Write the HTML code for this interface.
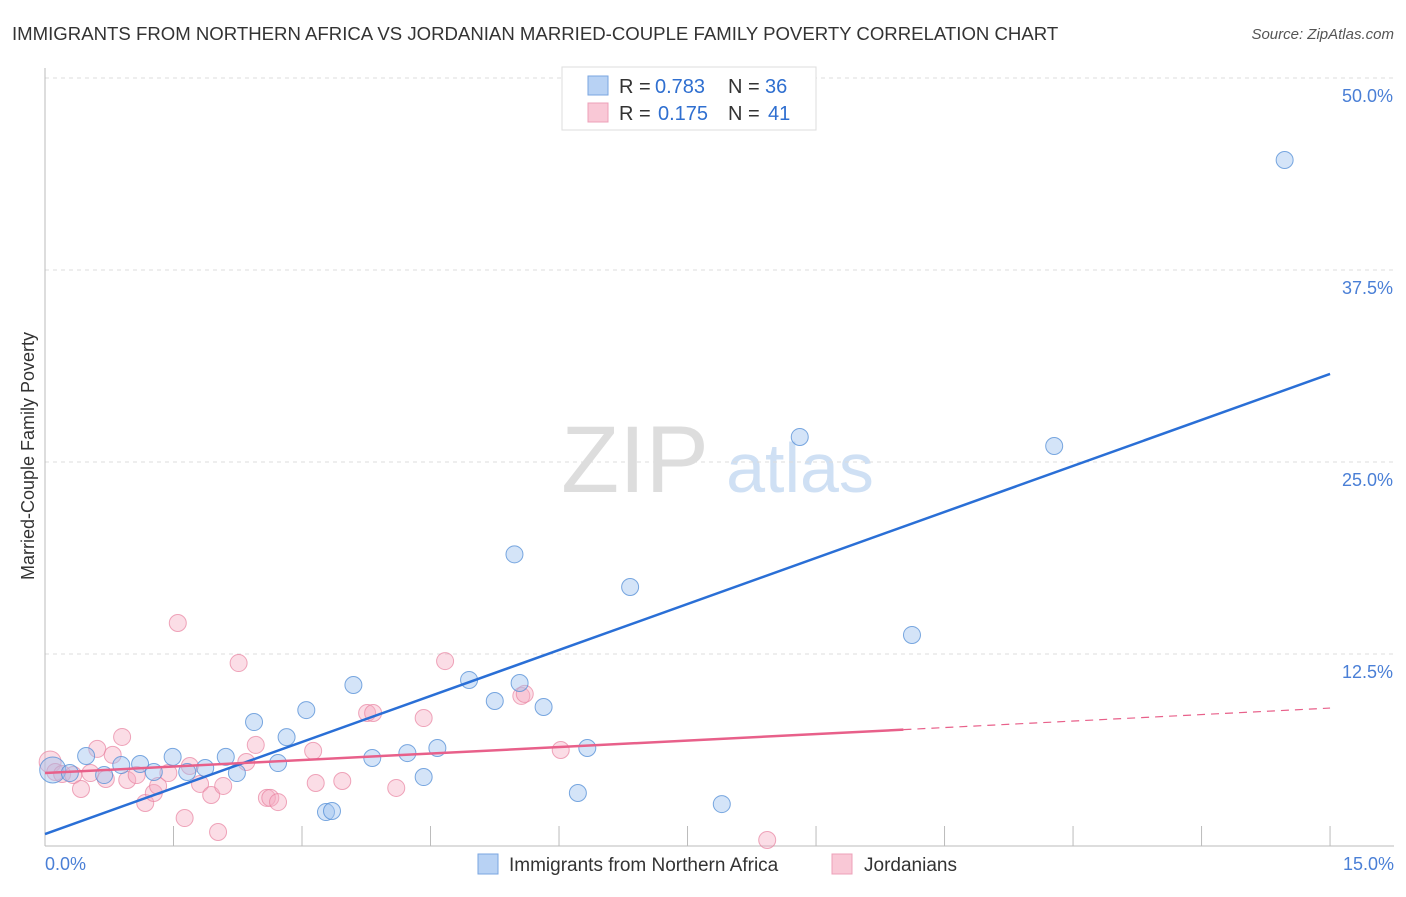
<!DOCTYPE html>
<html><head><meta charset="utf-8"><style>
body{margin:0;background:#fff;font-family:"Liberation Sans",sans-serif}
svg text{font-family:"Liberation Sans",sans-serif}
</style></head><body>
<svg width="1406" height="892" xmlns="http://www.w3.org/2000/svg">
<text x="12" y="40" font-size="18.6" fill="#333">IMMIGRANTS FROM NORTHERN AFRICA VS JORDANIAN MARRIED-COUPLE FAMILY POVERTY CORRELATION CHART</text>
<text x="1394" y="39" font-size="15" fill="#555" font-style="italic" text-anchor="end">Source: ZipAtlas.com</text>
<text x="635" y="492" font-size="95" fill="#ddd" font-family="Liberation Serif" text-anchor="middle">ZIP</text>
<text x="800" y="492" font-size="70" fill="#cfe0f4" text-anchor="middle">atlas</text>
<text transform="translate(34,456) rotate(-90)" font-size="18" fill="#333" text-anchor="middle">Married-Couple Family Poverty</text>
<g id="grid"></g><g id="axes"></g><g id="pts"></g><g id="lines"></g>
<g>
<rect x="562" y="67" width="254" height="63" fill="#fff" stroke="#ddd"/>
<rect x="588" y="76" width="20" height="19" fill="#b8d2f4" stroke="#7aa6e0"/>
<rect x="588" y="103" width="20" height="19" fill="#f9c8d6" stroke="#eda0b8"/>
<text x="619" y="93" font-size="20" fill="#333">R =</text>
<text x="655" y="93" font-size="20" fill="#2f6fd0">0.783</text>
<text x="728" y="93" font-size="20" fill="#333">N =</text>
<text x="765" y="93" font-size="20" fill="#2f6fd0">36</text>
<text x="619" y="120" font-size="20" fill="#333">R =</text>
<text x="658" y="120" font-size="20" fill="#2f6fd0">0.175</text>
<text x="728" y="120" font-size="20" fill="#333">N =</text>
<text x="768" y="120" font-size="20" fill="#2f6fd0">41</text>
</g>
<g>
<rect x="478" y="854" width="20" height="20" fill="#b8d2f4" stroke="#7aa6e0"/>
<text x="509" y="871" font-size="19" fill="#333">Immigrants from Northern Africa</text>
<rect x="832" y="854" width="20" height="20" fill="#f9c8d6" stroke="#eda0b8"/>
<text x="864" y="871" font-size="19" fill="#333">Jordanians</text>
</g>
</svg>
<script>
const blueX=[0.09,0.29,0.48,0.69,0.89,1.11,1.27,1.49,1.66,1.87,2.11,2.24,2.44,2.72,2.82,3.05,3.28,3.35,3.6,3.82,4.23,4.42,4.58,4.95,5.25,5.48,5.54,5.82,6.22,6.33,6.83,7.90,8.81,10.12,11.78,14.47];
const blueY=[4.95,4.75,5.86,4.62,5.27,5.34,4.82,5.8,4.82,5.08,5.8,4.75,8.07,5.4,7.09,8.85,2.21,2.28,10.48,5.73,6.05,4.49,6.38,10.81,9.44,18.99,10.61,9.05,3.45,6.38,16.86,2.73,26.63,13.74,26.04,44.66];
const pinkX=[0.06,0.12,0.2,0.33,0.42,0.53,0.61,0.71,0.79,0.9,0.96,1.07,1.17,1.27,1.32,1.44,1.55,1.63,1.69,1.81,1.94,2.02,2.08,2.26,2.35,2.46,2.59,2.63,2.72,3.13,3.16,3.47,3.76,3.83,4.1,4.42,4.67,5.56,5.6,6.02,8.43];
const pinkY=[5.47,4.82,4.69,4.62,3.71,4.75,6.32,4.36,5.93,7.1,4.3,4.62,2.8,3.45,3.91,4.75,14.52,1.82,5.21,4.04,3.32,0.91,3.91,11.91,5.47,6.58,3.13,3.13,2.86,6.19,4.1,4.23,8.66,8.66,3.78,8.33,12.04,9.77,9.9,6.25,0.39];
const xTicks=[0,1.5,3,4.5,6,7.5,9,10.5,12,13.5,15];
const yTicks=[12.5,25,37.5,50];
const yTickLabels=["12.5%","25.0%","37.5%","50.0%"];
const blueFit=[0.78,1.997];
const pinkFit=[4.75,0.282];
const pinkSolidEnd=10.02;
const NS="http://www.w3.org/2000/svg";
const X=v=>45+v*85.67, Y=v=>846-v*15.36;
function mk(p,t,a){const e=document.createElementNS(NS,t);for(const k in a)e.setAttribute(k,a[k]);document.getElementById(p).appendChild(e);return e;}
yTicks.forEach((t,i)=>{
 let g=mk('grid','line',{x1:45,x2:1394,y1:Y(t),y2:Y(t),stroke:'#ddd','stroke-dasharray':'4,4'});
 
 
 let l=mk('axes','text',{x:1393,y:Y(t)+24,'font-size':18,fill:'#4a7fd6','text-anchor':'end'});l.textContent=yTickLabels[i];
 
 
});
let ya=mk('axes','line',{x1:45,x2:45,y1:68,y2:846,stroke:'#bbb'});


let xa=mk('axes','line',{x1:45,x2:1394,y1:846,y2:846,stroke:'#bbb'});


xTicks.forEach(t=>{let k=mk('axes','line',{x1:X(t),x2:X(t),y1:826,y2:846,stroke:'#bbb'});
 
 });
let a=mk('axes','text',{x:45,y:870,'font-size':18,fill:'#4a7fd6'});a.textContent='0.0%';


let b=mk('axes','text',{x:1394,y:870,'font-size':18,fill:'#4a7fd6','text-anchor':'end'});b.textContent='15.0%';


pinkX.forEach((x,i)=>{let c=mk('pts','circle',{cx:X(x),cy:Y(pinkY[i]),r:i==0?11:8.5,fill:'rgba(244,170,192,0.4)',stroke:'rgba(232,130,160,0.7)'});
 
 });
blueX.forEach((x,i)=>{let c=mk('pts','circle',{cx:X(x),cy:Y(blueY[i]),r:i==0?13:8.5,fill:'rgba(160,196,240,0.45)',stroke:'rgba(80,140,214,0.75)'});
 
 });
let bl=mk('lines','line',{x1:X(0),y1:Y(blueFit[0]),x2:X(15),y2:Y(blueFit[0]+15*blueFit[1]),stroke:'#2a6fd6','stroke-width':2.5});


let pl=mk('lines','line',{x1:X(0),y1:Y(pinkFit[0]),x2:X(pinkSolidEnd),y2:Y(pinkFit[0]+pinkSolidEnd*pinkFit[1]),stroke:'#e8608a','stroke-width':2.5});


let pd=mk('lines','line',{x1:X(pinkSolidEnd),y1:Y(pinkFit[0]+pinkSolidEnd*pinkFit[1]),x2:X(15),y2:Y(pinkFit[0]+15*pinkFit[1]),stroke:'#e8608a','stroke-width':1.2,'stroke-dasharray':'8,6'});


</script>
</body></html>
